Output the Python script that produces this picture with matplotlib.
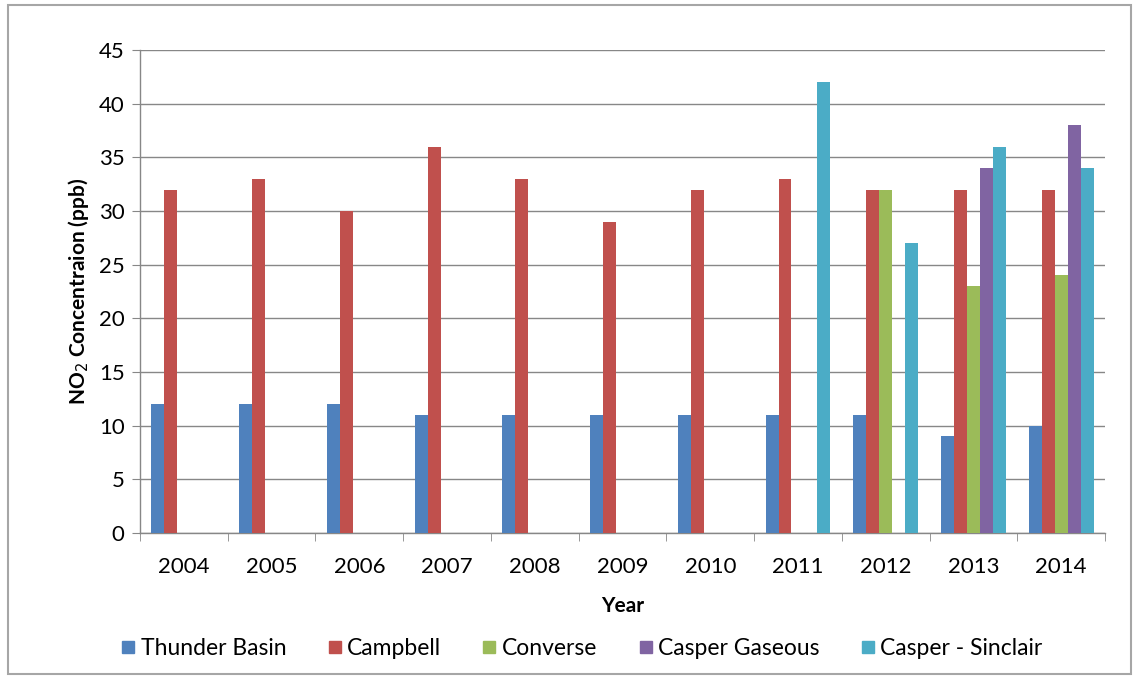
import matplotlib
matplotlib.use("Agg")
import matplotlib.pyplot as plt
from matplotlib.patches import Rectangle
from matplotlib.lines import Line2D
import numpy as np

plt.rcParams['font.family'] = ['Lato', 'DejaVu Sans']

years = ["2004", "2005", "2006", "2007", "2008", "2009", "2010", "2011", "2012", "2013", "2014"]
thunder_basin = [12, 12, 12, 11, 11, 11, 11, 11, 11, 9, 10]
campbell = [32, 33, 30, 36, 33, 29, 32, 33, 32, 32, 32]
converse = [0, 0, 0, 0, 0, 0, 0, 0, 32, 23, 24]
casper_gaseous = [0, 0, 0, 0, 0, 0, 0, 0, 0, 34, 38]
casper_sinclair = [0, 0, 0, 0, 0, 0, 0, 42, 27, 36, 34]

series_names = ["Thunder Basin", "Campbell", "Converse", "Casper Gaseous", "Casper - Sinclair"]
series_values = [thunder_basin, campbell, converse, casper_gaseous, casper_sinclair]
colors = ["#4F81BD", "#C0504D", "#9BBB59", "#8064A2", "#4BACC6"]

fig = plt.figure(figsize=(11.39, 6.86), dpi=100)
ax = fig.add_axes([0.1229, 0.2230, 0.8473, 0.7041])

x = np.arange(len(years))
bar_w = 0.148
for i, (vals, c) in enumerate(zip(series_values, colors)):
    ax.bar(x + (i - 2) * bar_w, vals, width=bar_w, color=c, edgecolor="none", zorder=3)

ax.set_xlim(-0.5, len(years) - 0.5)
ax.set_ylim(0, 45)
ax.set_yticks(np.arange(0, 46, 5))
ax.yaxis.grid(True, color="#878787", linewidth=1.0, zorder=0)
ax.set_axisbelow(True)

ax.set_xticks(x)
ax.set_xticklabels(years, fontsize=16)
ax.set_xticks(np.arange(-0.5, len(years), 1.0), minor=True)
ax.tick_params(axis="x", which="major", length=0, pad=17)
ax.tick_params(axis="x", which="minor", length=6, color="#878787", direction="out")
ax.tick_params(axis="y", labelsize=16, length=6, color="#878787", direction="out", pad=5)

for side in ("top", "right"):
    ax.spines[side].set_visible(False)
for side in ("left", "bottom"):
    ax.spines[side].set_color("#878787")
    ax.spines[side].set_linewidth(1.0)

ax.set_xlabel("Year", fontsize=15, fontweight="bold", labelpad=14)
ax.set_ylabel(r"NO$_2$ Concentraion (ppb)", fontsize=15, fontweight="bold", labelpad=6)

handles = [Line2D([0], [0], marker="s", linestyle="none", markersize=9,
                  markerfacecolor=c, markeredgecolor=c) for c in colors]
fig.legend(handles, series_names, loc="center", bbox_to_anchor=(0.511, 0.054),
           ncol=5, frameon=False, fontsize=16.5, handlelength=0.6,
           handletextpad=0.25, columnspacing=1.8)

fig.patches.append(Rectangle((0.007, 0.017), 0.986, 0.975, transform=fig.transFigure,
                             fill=False, edgecolor="#a6a6a6", linewidth=1.5))

fig.savefig("out.png", dpi=100)
